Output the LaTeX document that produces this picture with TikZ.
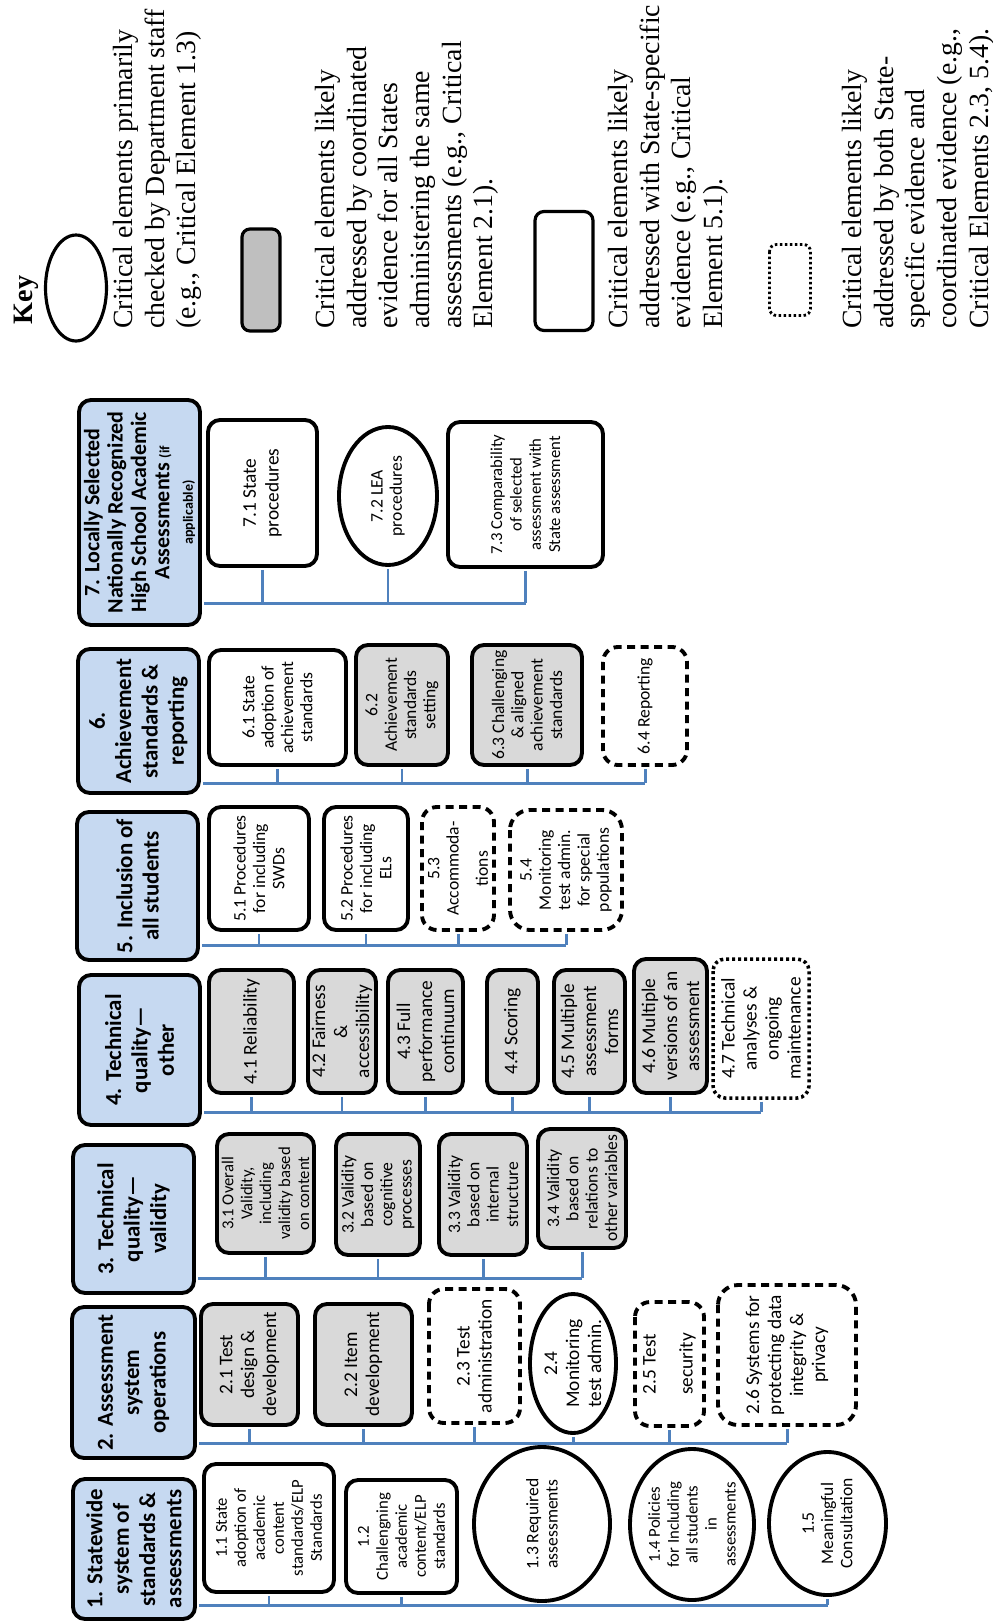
\documentclass[tikz,border=0pt]{standalone}
\usepackage{fontspec}
\setmainfont{Carlito}
\newfontfamily\keyfont{Liberation Serif}
\usetikzlibrary{shapes.geometric}
\definecolor{hdrblue}{HTML}{C6D9F1}
\definecolor{elemgray}{HTML}{D9D9D9}
\definecolor{keygray}{HTML}{BFBFBF}
\definecolor{busblue}{HTML}{4F81BD}

\tikzset{
  wh/.style 2 args={minimum height={(#1-4)*0.2mm}, minimum width={(#2-4)*0.2mm}},
  fs/.style 2 args={font=\fontsize{#1}{#2}\selectfont},
  elem/.style={rotate=90, align=center, inner sep=1pt, line width=2.2pt, fs={10}{11}},
  hdr/.style={elem, draw, fill=hdrblue, rounded corners=2.4mm, font=\bfseries\fontsize{13}{15}\selectfont},
  plainbox/.style={elem, draw, fill=white, rounded corners=2.4mm},
  graybox/.style={plainbox, fill=elemgray},
  dashbox/.style={elem, draw, rounded corners=3mm, dash pattern=on 1.6mm off 1.1mm},
  dotbox/.style={elem, draw, rounded corners=2.4mm, line width=2pt, dash pattern=on 0.6mm off 0.6mm},
  ovalbox/.style={elem, draw, ellipse, inner xsep=-3pt, inner ysep=-4pt},
  bus/.style={draw=busblue, line width=1.7pt, shorten <=1.1pt},
  keytext/.style={rotate=90, anchor=north west, align=left, inner sep=0pt,
    font=\keyfont\fontsize{15.8}{18}\selectfont},
}

\begin{document}
\begin{tikzpicture}[x=0.2mm, y=-0.2mm]

% Page frame
\useasboundingbox (0,0) rectangle (993,1623);

% --- Key ---
\node[rotate=90, inner sep=0pt, font=\keyfont\bfseries\fontsize{16}{18}\selectfont] (keyttl) at (26,300) {Key};

\node[draw, ellipse, rotate=90, line width=1.8pt, inner sep=0pt, wh={65}{110}] (k1) at (76,288) {};
\node[keytext] (kt1) at (113,329)
  {Critical elements primarily\\ checked by Department staff\\ (e.g., Critical Element 1.3)};

\node[draw, fill=keygray, rotate=90, rounded corners=1.6mm, line width=1.8pt, inner sep=0pt, wh={42}{106}] (k2) at (261,280) {};
\node[keytext] (kt2) at (315,329)
  {Critical elements likely\\ addressed by coordinated\\ evidence for all States\\ administering the same\\ assessments (e.g., Critical\\ Element 2.1).};

\node[draw, rotate=90, rounded corners=1.8mm, line width=1.8pt, inner sep=0pt, wh={62}{123}] (k3) at (564,271) {};
\node[keytext] (kt3) at (608,329)
  {Critical elements likely\\ addressed with State-specific\\ evidence (e.g., Critical\\ Element 5.1).};

\node[draw, rotate=90, rounded corners=1.4mm, line width=1.6pt, dash pattern=on 0.5mm off 0.5mm, inner sep=0pt, wh={45}{75}] (k4) at (790,280) {};
\node[keytext] (kt4) at (842,329)
  {Critical elements likely\\ addressed by both State-\\ specific evidence and\\ coordinated evidence (e.g.,\\ Critical Elements 2.3, 5.4).};

% --- Row 7 ---
\node[hdr, wh={125}{229}, font=\bfseries\fontsize{12.5}{13.3}\selectfont] (h7) at (139.5,512.5)
  {7. Locally Selected\\ Nationally Recognized\\ High School Academic\\ Assessments {\fontsize{8}{9}\selectfont(if}\\ {\fontsize{8}{9}\selectfont applicable)}};
\node[plainbox, wh={113}{150}, fs={11}{13}] (e71) at (262.5,493) {7.1 State\\ procedures};
\node[ovalbox, wh={102}{142}] (e72) at (388,496) {7.2 LEA\\ procedures};
\node[plainbox, wh={159}{149}, fs={9.5}{11}] (e73) at (525.5,494.5)
  {7.3 Comparability\\ of selected\\ assessment with\\ State assessment};
\coordinate (b7) at (525.5,603);
\draw[bus] (h7.south |- b7) -- (b7);
\foreach \n in {71,72,73} \draw[bus] (e\n.west) -- (e\n.west |- b7);

% --- Row 6 ---
\node[hdr, wh={125}{148}] (h6) at (138.5,721) {6.\\ Achievement\\ standards \&\\ reporting};
\node[plainbox, wh={141}{119}] (e61) at (277.5,707.5) {6.1 State\\ adoption of\\ achievement\\ standards};
\node[graybox, wh={96}{124}] (e62) at (402,705) {6.2\\ Achievement\\ standards\\ setting};
\node[graybox, wh={114}{124}] (e63) at (527,705) {6.3 Challenging\\ \& aligned\\ achievement\\ standards};
\node[dashbox, wh={88}{122}] (e64) at (645,706) {6.4 Reporting};
\coordinate (b6) at (645,783);
\draw[bus] (h6.south |- b6) -- (b6);
\foreach \n in {61,...,64} \draw[bus] (e\n.west) -- (e\n.west |- b6);

% --- Row 5 ---
\node[hdr, wh={125}{152}] (h5) at (137.5,886) {5. Inclusion of\\ all students};
\node[plainbox, wh={104}{127}] (e51) at (259,868.5) {5.1 Procedures\\ for including\\ SWDs};
\node[plainbox, wh={88}{127}] (e52) at (366,868.5) {5.2 Procedures\\ for including\\ ELs};
\node[dashbox, wh={76}{127}] (e53) at (458,868.5) {5.3\\ Accommoda-\\[2mm] tions};
\node[dashbox, rounded corners=4mm, wh={116}{124}] (e54) at (566,870)
  {5.4\\ Monitoring\\ test admin.\\ for special\\ populations};
\coordinate (b5) at (566,945);
\draw[bus] (h5.south |- b5) -- (b5);
\foreach \n in {51,...,54} \draw[bus] (e\n.west) -- (e\n.west |- b5);

% --- Row 4 ---
\node[hdr, wh={125}{154}] (h4) at (139.5,1050) {4. Technical\\ quality---\\ other};
\node[graybox, wh={89}{127}, fs={11}{12.5}] (e41) at (251.5,1031.5) {4.1 Reliability};
\node[graybox, wh={72}{127}, fs={11}{12.5}] (e42) at (342,1031.5) {4.2 Fairness\\ \&\\ accessibility};
\node[graybox, wh={79}{127}, fs={11}{12.5}] (e43) at (425.5,1031.5) {4.3 Full\\ performance\\ continuum};
\node[graybox, wh={55}{127}, fs={11}{12.5}] (e44) at (512.5,1031.5) {4.4 Scoring};
\node[graybox, wh={75}{127}, fs={11}{12.5}] (e45) at (589.5,1031.5) {4.5 Multiple\\ assessment\\ forms};
\node[graybox, wh={77}{138}, fs={11}{12.5}] (e46) at (670.5,1026) {4.6 Multiple\\ versions of an\\ assessment};
\node[dotbox, wh={100}{143}, fs={11}{12.5}] (e47) at (761,1028.5) {4.7 Technical\\ analyses \&\\ ongoing\\ maintenance};
\coordinate (b4) at (761,1112);
\draw[bus] (h4.south |- b4) -- (b4);
\foreach \n in {41,...,47} \draw[bus] (e\n.west) -- (e\n.west |- b4);

% --- Row 3 ---
\node[hdr, wh={125}{152}] (h3) at (133.5,1219) {3. Technical\\ quality---\\ validity};
\node[graybox, wh={101}{123}, fs={9.5}{10.8}] (e31) at (265.5,1193.5)
  {3.1 Overall\\ Validity,\\ including\\ validity based\\ on content};
\node[graybox, wh={88}{125}] (e32) at (378,1194.5) {3.2 Validity\\ based on\\ cognitive\\ processes};
\node[graybox, wh={92}{125}] (e33) at (483,1194.5) {3.3 Validity\\ based on\\ internal\\ structure};
\node[graybox, wh={92}{123}] (e34) at (582,1188.5) {3.4 Validity\\ based on\\ relations to\\ other variables};
\coordinate (b3) at (582,1278);
\draw[bus] (h3.south |- b3) -- (b3);
\foreach \n in {31,...,34} \draw[bus] (e\n.west) -- (e\n.west |- b3);

% --- Row 2 ---
\node[hdr, wh={127}{155}] (h2) at (133.5,1382.5) {2. Assessment\\ system\\ operations};
\node[graybox, wh={101}{125}, fs={11}{12.5}] (e21) at (249.5,1364.5) {2.1 Test\\ design \&\\ development};
\node[graybox, wh={101}{125}, fs={11}{12.5}] (e22) at (363.5,1364.5) {2.2 Item\\ development};
\node[dashbox, wh={95}{138}, fs={11}{12.5}] (e23) at (474.5,1356) {2.3 Test\\ administration};
\node[ovalbox, wh={90}{143}, fs={11}{12.5}] (e24) at (573,1363.5) {2.4\\ Monitoring\\ test admin.};
\node[dashbox, wh={73}{128}, fs={11}{12.5}] (e25) at (669.5,1364) {2.5 Test\\[3mm] security};
\node[dashbox, rounded corners=4mm, wh={142}{144}, fs={11}{12.5}] (e26) at (787,1355)
  {2.6 Systems for\\ protecting data\\ integrity \&\\ privacy};
\coordinate (b2) at (787,1443);
\draw[bus] (h2.south |- b2) -- (b2);
\foreach \n in {21,...,26} \draw[bus] (e\n.west) -- (e\n.west |- b2);

% --- Row 1 ---
\node[hdr, wh={126}{144}] (h1) at (134,1549) {1. Statewide\\ system of\\ standards \&\\ assessments};
\node[plainbox, wh={134}{132}, fs={9.5}{10.8}] (e11) at (269,1528)
  {1.1 State\\ adoption of\\ academic\\ content\\ standards/ELP\\ Standards};
\node[plainbox, wh={115}{117}, fs={9.5}{10.8}] (e12) at (401.5,1536.5)
  {1.2\\ Challengning\\ academic\\ content/ELP\\ standards};
\node[ovalbox, wh={140}{158}] (e13) at (542,1524) {1.3 Required\\ assessments};
\node[ovalbox, wh={128}{155}, fs={9.5}{10.8}] (e14) at (692,1524.5)
  {1.4 Policies\\ for Including\\ all students\\ in\\ assessments};
\node[ovalbox, wh={121}{147}] (e15) at (827.5,1523.5) {1.5\\ Meaningful\\ Consultation};
\coordinate (b1) at (827.5,1605);
\draw[bus] (h1.south |- b1) -- (b1);
\foreach \n in {11,...,15} \draw[bus] (e\n.west) -- (e\n.west |- b1);

\end{tikzpicture}
\end{document}
